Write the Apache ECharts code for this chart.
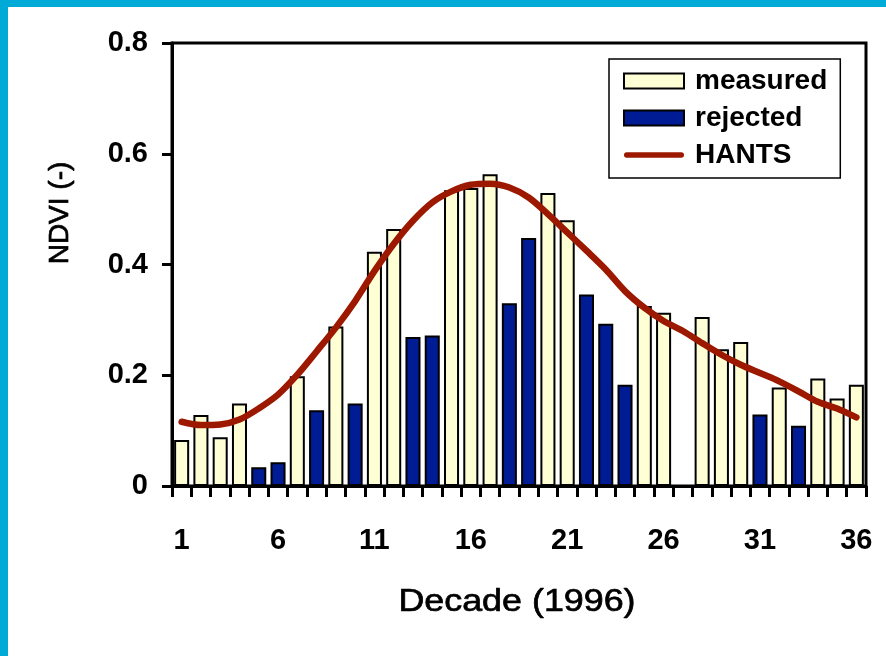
<!DOCTYPE html>
<html>
<head>
<meta charset="utf-8">
<title>NDVI 1996</title>
<script src="https://cdn.jsdelivr.net/npm/echarts@6/dist/echarts.min.js"></script>
<style>
  html, body { margin: 0; padding: 0; background: #ffffff; }
  #wrap { position: relative; width: 886px; height: 656px; overflow: hidden; }
  #chart { position: absolute; left: 0; top: 0; width: 886px; height: 656px; }
  .strip { position: absolute; background: #00AAD6; }
</style>
</head>
<body>
<div id="wrap">
  <div id="chart"></div>
  <div class="strip" style="left:0;top:0;width:886px;height:7px;"></div>
  <div class="strip" style="left:0;top:0;width:8px;height:656px;"></div>
</div>
<script>
// Decades of 1996 (ten-day periods, 1..36)
const decades = Array.from({ length: 36 }, (_, i) => String(i + 1));

// NDVI observations kept by the filter (null = no accepted value)
const measured = [
  0.083, 0.128, 0.088, 0.149, null, null, 0.198, null, 0.288, null,
  0.423, 0.464, null, null, 0.534, 0.538, 0.563, null, null, 0.529,
  0.480, null, null, null, 0.325, 0.313, null, 0.305, 0.247, 0.260,
  null, 0.178, null, 0.194, 0.158, 0.183
];

// NDVI observations rejected as cloud-contaminated
const rejected = [
  null, null, null, null, 0.034, 0.043, null, 0.137, null, 0.149,
  null, null, 0.269, 0.272, null, null, null, 0.330, 0.448, null,
  null, 0.346, 0.293, 0.183, null, null, null, null, null, null,
  0.129, null, 0.109, null, null, null
];

// HANTS reconstructed curve
const hants = [
  0.116, 0.110, 0.111, 0.120, 0.140, 0.165, 0.201, 0.243, 0.286, 0.334,
  0.388, 0.437, 0.479, 0.512, 0.532, 0.544, 0.546, 0.539, 0.521, 0.491,
  0.458, 0.425, 0.391, 0.352, 0.322, 0.298, 0.280, 0.258, 0.237, 0.219,
  0.204, 0.189, 0.171, 0.152, 0.140, 0.124
];

const FONT = '"Liberation Sans", Arial, sans-serif';
const LINE_RED = '#9C1900';

const chart = echarts.init(document.getElementById('chart'), null, { renderer: 'canvas' });

chart.setOption({
  animation: false,
  backgroundColor: '#ffffff',
  grid: {
    left: 172, top: 43, right: 20, bottom: 170,
    show: true, borderColor: '#000000', borderWidth: 3,
    backgroundColor: 'transparent'
  },
  legend: {
    left: 609, top: 59,
    orient: 'vertical',
    backgroundColor: '#ffffff',
    borderColor: '#000000', borderWidth: 1.5, borderRadius: 0,
    padding: [8, 13, 9, 14],
    itemWidth: 60, itemHeight: 15, itemGap: 9,
    symbolKeepAspect: true,
    textStyle: {
      fontFamily: FONT, fontSize: 28, fontWeight: 'bold', color: '#000000',
      lineHeight: 28, padding: [0, 0, 0, 6]
    },
    data: [
      { name: 'measured', icon: 'rect' },
      { name: 'rejected', icon: 'rect' },
      {
        name: 'HANTS',
        icon: 'path://M3,0 L63,0 A3,3 0 0 1 63,6 L3,6 A3,3 0 0 1 3,0 Z',
        itemStyle: { color: LINE_RED, borderWidth: 0 }
      }
    ]
  },
  xAxis: {
    type: 'category',
    data: decades,
    boundaryGap: true,
    axisLine: { show: true, onZero: false, lineStyle: { color: '#000000', width: 3 } },
    axisTick: { show: true, interval: 0, length: 11, lineStyle: { color: '#000000', width: 3 } },
    axisLabel: {
      interval: (idx) => idx % 5 === 0,
      margin: 40,
      fontFamily: FONT, fontSize: 29, fontWeight: 'bold', color: '#000000'
    },
    splitLine: { show: false }
  },
  yAxis: {
    type: 'value',
    min: 0, max: 0.8, interval: 0.2,
    axisLine: { show: true, lineStyle: { color: '#000000', width: 3 } },
    axisTick: { show: true, length: 10, lineStyle: { color: '#000000', width: 3 } },
    axisLabel: {
      margin: 24,
      fontFamily: FONT, fontSize: 29, fontWeight: 'bold', color: '#000000'
    },
    splitLine: { show: false }
  },
  graphic: [
    {
      type: 'text',
      x: 60, y: 213,
      rotation: Math.PI / 2,
      style: {
        text: 'NDVI (-)',
        fontFamily: FONT, fontSize: 28, fill: '#000000',
        stroke: '#000000', lineWidth: 0.7,
        align: 'center', verticalAlign: 'middle'
      }
    },
    {
      type: 'text',
      x: 517, y: 602,
      scaleX: 1.12,
      style: {
        text: 'Decade (1996)',
        fontFamily: FONT, fontSize: 32, fill: '#000000',
        stroke: '#000000', lineWidth: 0.7,
        align: 'center', verticalAlign: 'middle'
      }
    }
  ],
  series: [
    {
      name: 'measured',
      type: 'bar',
      data: measured,
      barWidth: '78%',
      barGap: '-100%',
      itemStyle: { color: '#FFFFD6', borderColor: '#000000', borderWidth: 2 },
      z: 2
    },
    {
      name: 'rejected',
      type: 'bar',
      data: rejected,
      barWidth: '78%',
      barGap: '-100%',
      itemStyle: { color: '#001C94', borderColor: '#000000', borderWidth: 2 },
      z: 2
    },
    {
      name: 'HANTS',
      type: 'line',
      data: hants,
      smooth: 0.3,
      symbol: 'none',
      lineStyle: { color: LINE_RED, width: 6.5, cap: 'round', join: 'round' },
      itemStyle: { color: LINE_RED },
      z: 5
    }
  ]
});
</script>
</body>
</html>
